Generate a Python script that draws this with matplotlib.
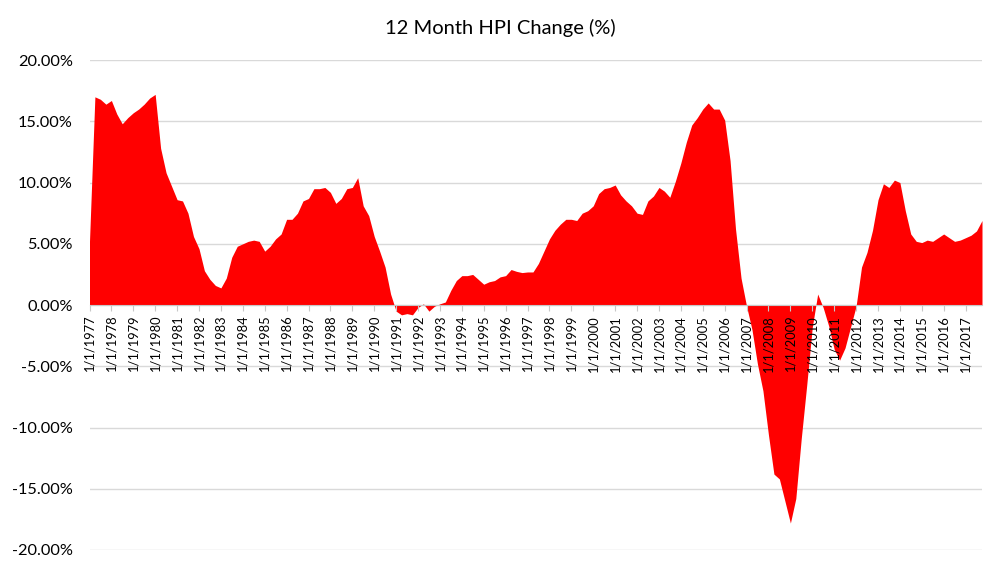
import pandas as pd
import numpy as np
import matplotlib
matplotlib.use("Agg")
import matplotlib.pyplot as plt
import matplotlib.ticker as mticker

# 12 month HPI change (%), read quarterly (Jan/Apr/Jul/Oct) from 1977 to 2017
hpi_change = [
    5.2, 17.0, 16.8, 16.4,      # 1977
    16.7, 15.6, 14.8, 15.3,     # 1978
    15.7, 16.0, 16.4, 16.9,     # 1979
    17.2, 12.8, 10.8, 9.7,      # 1980
    8.6, 8.5, 7.5, 5.6,         # 1981
    4.6, 2.8, 2.1, 1.6,         # 1982
    1.4, 2.2, 3.9, 4.8,         # 1983
    5.0, 5.2, 5.3, 5.2,         # 1984
    4.4, 4.8, 5.4, 5.8,         # 1985
    7.0, 7.0, 7.5, 8.5,         # 1986
    8.7, 9.5, 9.5, 9.6,         # 1987
    9.2, 8.3, 8.7, 9.5,         # 1988
    9.6, 10.4, 8.1, 7.3,        # 1989
    5.6, 4.4, 3.1, 0.9,         # 1990
    -0.5, -0.8, -0.7, -0.8,     # 1991
    -0.2, 0.1, -0.5, -0.1,      # 1992
    0.1, 0.25, 1.2, 2.0,        # 1993
    2.4, 2.4, 2.5, 2.1,         # 1994
    1.7, 1.9, 2.0, 2.3,         # 1995
    2.4, 2.9, 2.75, 2.65,       # 1996
    2.7, 2.7, 3.4, 4.4,         # 1997
    5.4, 6.1, 6.6, 7.0,         # 1998
    7.0, 6.9, 7.5, 7.7,         # 1999
    8.1, 9.1, 9.5, 9.6,         # 2000
    9.8, 9.0, 8.5, 8.1,         # 2001
    7.5, 7.4, 8.5, 8.9,         # 2002
    9.6, 9.3, 8.8, 10.1,        # 2003
    11.6, 13.3, 14.7, 15.3,     # 2004
    16.0, 16.5, 16.0, 16.0,     # 2005
    15.1, 11.8, 6.2, 2.2,       # 2006
    -0.1, -2.0, -4.8, -7.0,     # 2007
    -10.6, -13.8, -14.2, -16.0, # 2008
    -17.8, -15.8, -10.9, -6.5,  # 2009
    -1.8, 0.9, -0.2, -1.7,      # 2010
    -3.6, -4.5, -3.5, -1.8,     # 2011
    -0.1, 3.1, 4.3, 6.1,        # 2012
    8.6, 9.9, 9.6, 10.2,        # 2013
    10.0, 7.7, 5.8, 5.2,        # 2014
    5.1, 5.3, 5.2, 5.5,         # 2015
    5.8, 5.5, 5.2, 5.3,         # 2016
    5.5, 5.7, 6.05, 6.9,        # 2017
]
start_date = "1977-01-01"
tick_years = list(range(1977, 2018))
tick_labels = [f"1/1/{y}" for y in tick_years]
y_ticks = [-20, -15, -10, -5, 0, 5, 10, 15, 20]

plt.rcParams["font.family"] = ["Lato", "DejaVu Sans"]

dates = pd.date_range(start_date, periods=len(hpi_change), freq="QS")
values = np.array(hpi_change)

fig = plt.figure(figsize=(10, 5.69), dpi=100)
ax = fig.add_axes([0.0895, 0.0334, 0.8925, 0.861])

# gridlines behind the area
for v in y_ticks:
    ax.axhline(v, color="#d9d9d9", linewidth=1, zorder=0)

ax.fill_between(dates, values, 0, color="#ff0000", linewidth=0, zorder=1)

ax.set_xlim(dates[0], dates[-1])
ax.set_ylim(-20, 20)

# x axis crosses at zero, labels drawn on top of the fill
for side in ["top", "right", "left"]:
    ax.spines[side].set_visible(False)
ax.spines["bottom"].set_position(("data", 0))
ax.spines["bottom"].set_color("#c8c8c8")
ax.spines["bottom"].set_zorder(3)
ax.xaxis.set_zorder(3)

ax.set_xticks(pd.to_datetime([f"{y}-01-01" for y in tick_years]))
ax.set_xticklabels(tick_labels, rotation=90)
ax.tick_params(axis="x", length=4, color="#c8c8c8", pad=3, labelsize=9.3)

ax.set_yticks(y_ticks)
ax.yaxis.set_major_formatter(mticker.FuncFormatter(lambda v, p: f"{v:.2f}%"))
ax.tick_params(axis="y", length=0, pad=12, labelsize=11.8)

fig.text(0.5, 0.951, "12 Month HPI Change (%)", ha="center", va="center", fontsize=14.5)

fig.savefig("out.png", dpi=100)
